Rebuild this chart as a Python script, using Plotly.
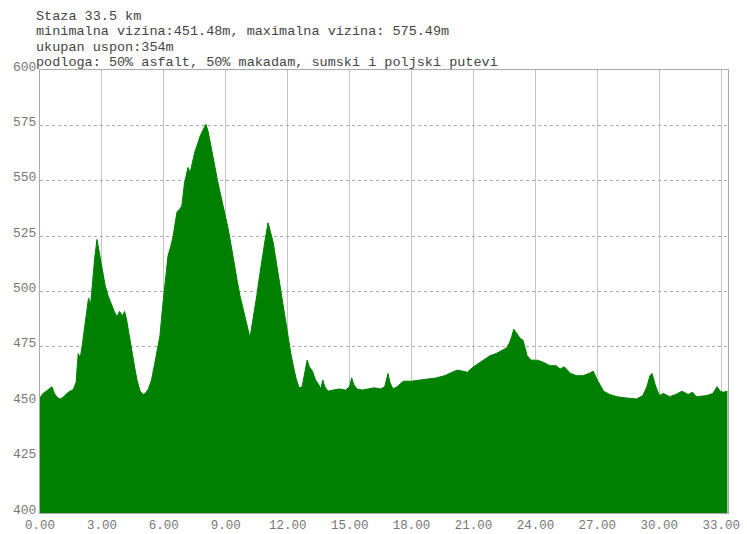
import plotly.graph_objects as go

# distance along route (km)
dist = [0.00, 0.15, 0.30, 0.45, 0.58, 0.70, 0.85, 1.00, 1.15, 1.30, 1.45, 1.60, 1.75, 1.85, 1.95,
        2.05, 2.15, 2.25, 2.35, 2.45, 2.55, 2.65, 2.76, 2.85, 2.95, 3.05, 3.15, 3.30, 3.45, 3.60,
        3.73, 3.85, 4.00, 4.10, 4.20, 4.35, 4.50, 4.60, 4.70, 4.85, 5.00, 5.10, 5.25, 5.40, 5.55,
        5.70, 5.81, 5.95, 6.06, 6.20, 6.35, 6.45, 6.55, 6.64, 6.75, 6.87, 7.00, 7.10, 7.17, 7.27,
        7.40, 7.50, 7.65, 7.75, 7.90, 8.04, 8.15, 8.24, 8.35, 8.48, 8.60, 8.72, 8.85, 8.96, 9.10,
        9.20, 9.30, 9.45, 9.55, 9.69, 9.80, 9.93, 10.05, 10.17, 10.30, 10.40, 10.50, 10.62, 10.75,
        10.90, 11.05, 11.15, 11.30, 11.40, 11.50, 11.65, 11.77, 11.90, 12.00, 12.15, 12.26, 12.40,
        12.55, 12.70, 12.80, 12.94, 13.05, 13.20, 13.35, 13.50, 13.60, 13.70, 13.80, 13.95, 14.2,
        14.5, 14.8, 15.0, 15.1, 15.2, 15.35, 15.6, 15.9, 16.2, 16.5, 16.7, 16.86, 16.95, 17.1,
        17.3, 17.6, 18.0, 18.4, 18.8, 19.2, 19.6, 20.0, 20.2, 20.5, 20.7, 21.0, 21.3, 21.6, 21.8,
        22.1, 22.4, 22.6, 22.75, 22.85, 22.95, 23.1, 23.25, 23.4, 23.6, 23.8, 24.1, 24.4, 24.7,
        25.0, 25.2, 25.4, 25.5, 25.7, 26.0, 26.3, 26.6, 26.8, 27.0, 27.3, 27.6, 27.95, 28.3, 28.6,
        28.9, 29.2, 29.4, 29.55, 29.65, 29.8, 30.0, 30.2, 30.5, 30.8, 31.1, 31.4, 31.6, 31.8,
        32.1, 32.3, 32.6, 32.8, 32.95, 33.1, 33.3]

# elevation (m)
elev = [452, 454, 455, 456, 457, 454, 452, 451.5, 452.5, 454, 455, 455.5, 459, 472, 470,
        476, 483, 490, 497, 494, 505, 515, 523.5, 519, 514, 508, 503, 498, 494, 491,
        488.5, 491, 489, 491, 487, 478, 471, 465, 460, 455, 453.5, 454, 456, 460, 467,
        474, 480, 494, 504, 516, 521, 525, 531, 536, 537, 538.5, 549, 553, 556, 553.5,
        559, 563, 567, 570, 573, 575.5, 572, 568, 562, 556, 550, 545, 540, 536, 529,
        524, 518, 511, 505, 498, 494, 489, 484, 479, 486, 491, 498, 506, 514.5,
        523, 531, 527, 522, 516, 510, 502, 495, 487, 480, 472, 467, 461,
        456.5, 457, 462, 469, 466, 464, 460, 458, 456, 460, 457, 455, 455.5,
        456, 455.5, 457, 461, 458, 456, 455.5, 456, 456.5, 456, 457, 463, 459, 456,
        457, 459.5, 459.5, 460, 460.5, 461, 462, 463.5, 464.5, 464, 463.5, 466, 468, 470, 471,
        472, 473.5, 474.5, 477, 479.5, 483, 481, 479, 478, 471, 469, 469, 468, 466.5,
        466.5, 465, 466, 465, 463, 462, 462, 463, 464, 460, 455, 453.5, 452.5, 452, 451.7,
        451.5, 453, 457, 462, 463, 458, 453, 454, 452.5, 453.5, 455, 453.5, 454.5, 452.5,
        453, 453, 454, 457, 455, 454.5, 455]

x_ticks = [0, 3, 6, 9, 12, 15, 18, 21, 24, 27, 30, 33]
y_ticks = [400, 425, 450, 475, 500, 525, 550, 575, 600]

header_lines = [
    "Staza 33.5 km",
    "minimalna vizina:451.48m, maximalna vizina: 575.49m",
    "ukupan uspon:354m",
    "podloga: 50% asfalt, 50% makadam, sumski i poljski putevi",
]

W, H = 747, 534
ML, MR, MT, MB = 40, 19, 70, 21
PLOT_W, PLOT_H = W - ML - MR, H - MT - MB

fig = go.Figure()
fig.add_trace(go.Scatter(
    x=dist, y=elev, mode="lines", fill="tozeroy",
    line=dict(color="#008000", width=1), fillcolor="#008000",
    hoverinfo="x+y", showlegend=False,
))

mono = "Liberation Mono, DejaVu Sans Mono, monospace"

line_px = [16, 32, 47.5, 62.5]
annotations = []
for txt, py in zip(header_lines, line_px):
    annotations.append(dict(
        text=txt, xref="paper", yref="paper",
        x=(34 - ML) / PLOT_W, y=1 + (MT - py) / PLOT_H,
        xanchor="left", yanchor="middle", showarrow=False,
        font=dict(family=mono, size=13.5, color="#444"),
    ))

fig.update_layout(
    width=W, height=H, autosize=False,
    margin=dict(l=ML, r=MR, t=MT, b=MB, pad=0),
    paper_bgcolor="white", plot_bgcolor="white",
    annotations=annotations,
    xaxis=dict(
        range=[0, 33.33], tickvals=x_ticks, tickformat=".2f",
        showgrid=True, gridcolor="#c4c4c4", gridwidth=1,
        showline=True, mirror=True, linecolor="#aaaaaa", linewidth=1,
        zeroline=False, ticks="", ticklen=0, automargin=False,
        tickfont=dict(family=mono, size=12.5, color="#777"),
    ),
    yaxis=dict(
        range=[400, 600], tickvals=y_ticks,
        showgrid=True, gridcolor="#aaaaaa", gridwidth=1, griddash="dot",
        showline=True, mirror=True, linecolor="#aaaaaa", linewidth=1,
        zeroline=False, ticks="", ticklen=0, automargin=False,
        ticklabelshift=-4,
        tickfont=dict(family=mono, size=13, color="#777"),
    ),
)

fig.write_html(
    "out.html",
    config={"responsive": False, "displayModeBar": False},
    post_script="document.body.style.margin='0';document.body.style.overflow='hidden';",
)
